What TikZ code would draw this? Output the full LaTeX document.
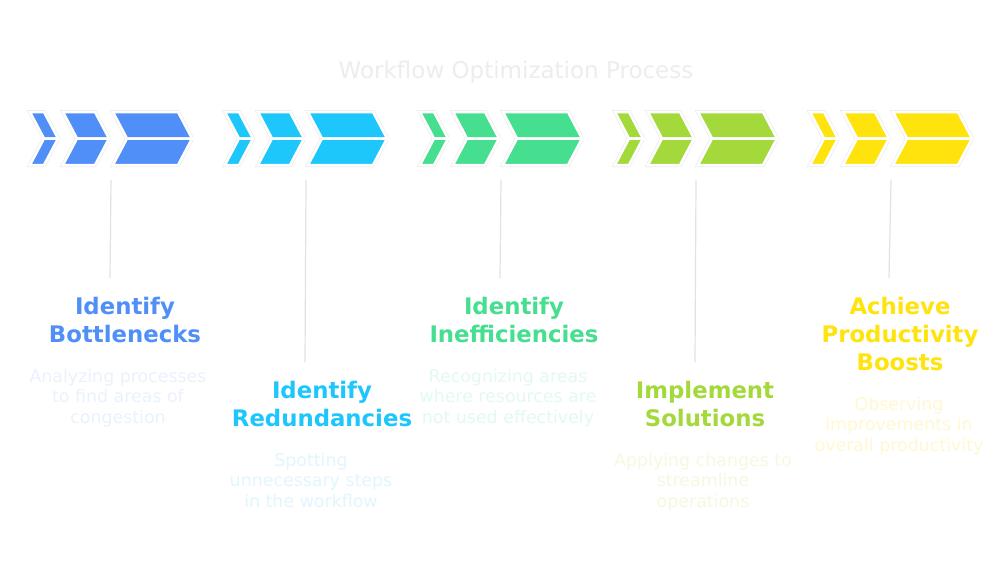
\documentclass[tikz,border=0pt]{standalone}
\usepackage{fontspec}
\setmainfont{DejaVu Sans}
\definecolor{cA}{HTML}{4F8FF7}
\definecolor{cB}{HTML}{1DC6FB}
\definecolor{cC}{HTML}{46DE8F}
\definecolor{cD}{HTML}{A3D93B}
\definecolor{cE}{HTML}{FFE30D}
\definecolor{dA}{HTML}{EAF2FE}
\definecolor{dB}{HTML}{E2F6FE}
\definecolor{dC}{HTML}{E3FAEE}
\definecolor{dD}{HTML}{F3FAE0}
\definecolor{dE}{HTML}{FFF8D2}
\definecolor{headgray}{HTML}{EDEDED}
\definecolor{stemgray}{HTML}{E2E2E2}
\definecolor{halo}{HTML}{EDEDED}
\begin{document}
\begin{tikzpicture}[x=1pt,y=-1pt,
  ttl/.style={font=\fontsize{22.8}{28}\selectfont\bfseries, align=center, anchor=base, inner sep=0pt},
  dsc/.style={font=\fontsize{17.4}{20.8}\selectfont, align=center, anchor=base, inner sep=0pt},
  stem/.style={draw=stemgray, line width=1.2pt},
  chevhalo/.style={draw=halo, line width=4pt, line join=miter},
  chevhalf/.style={draw=white, line width=2.5pt, line join=miter}]
\useasboundingbox[fill=white] (0,0) rectangle (1000,570);

\node[font=\fontsize{23}{28}\selectfont, text=headgray, anchor=base, inner sep=0pt] (head) at (516,78) {Workflow Optimization Process};

\foreach \i/\col in {1/cA,2/cB,3/cC,4/cD,5/cE} {
  \pgfmathsetmacro\gx{30+195*(\i-1)}
  \begin{scope}[xshift=\gx pt]
    \foreach \l/\w in {0/14,33/32,83/65} {
      \draw[chevhalo] (\l,112) -- ++(\w,0) -- ++(14,26.5) -- ++(-14,26.5) -- ++(-\w,0) -- ++(14,-26.5) -- cycle;
    }
    \foreach \l/\w in {0/14,33/32,83/65} {
      \fill[\col, chevhalf] (\l,112) -- ++(\w,0) -- ++(14,26.5) -- ++(-\w,0) -- cycle;
      \fill[\col, chevhalf] (\l+14,138.5) -- ++(\w,0) -- ++(-14,26.5) -- ++(-\w,0) -- cycle;
    }
    \coordinate (g\i) at (81,180);
  \end{scope}
}

\coordinate (e1) at (110,278);
\coordinate (e2) at (305,362);
\coordinate (e3) at (500,278);
\coordinate (e4) at (695,362);
\coordinate (e5) at (889,278);
\foreach \i in {1,...,5} { \draw[stem] (g\i) -- (e\i); }

\node[ttl, text=cA] (t1) at (125,342.5) {Identify\\Bottlenecks};
\node[dsc, text=dA] (d1) at (118,423.6) {Analyzing processes\\to find areas of\\congestion};

\node[ttl, text=cB] (t2) at (322,426) {Identify\\Redundancies};
\node[dsc, text=dB] (d2) at (311,507.6) {Spotting\\unnecessary steps\\in the workflow};

\node[ttl, text=cC] (t3) at (514,342.5) {Identify\\Inefficiencies};
\node[dsc, text=dC] (d3) at (508,423.6) {Recognizing areas\\where resources are\\not used effectively};

\node[ttl, text=cD] (t4) at (705,426) {Implement\\Solutions};
\node[dsc, text=dD] (d4) at (703,507.6) {Applying changes to\\streamline\\operations};

\node[ttl, text=cE] (t5) at (900,370.5) {Achieve\\Productivity\\Boosts};
\node[dsc, text=dE] (d5) at (899,451.6) {Observing\\improvements in\\overall productivity};
\end{tikzpicture}
\end{document}
